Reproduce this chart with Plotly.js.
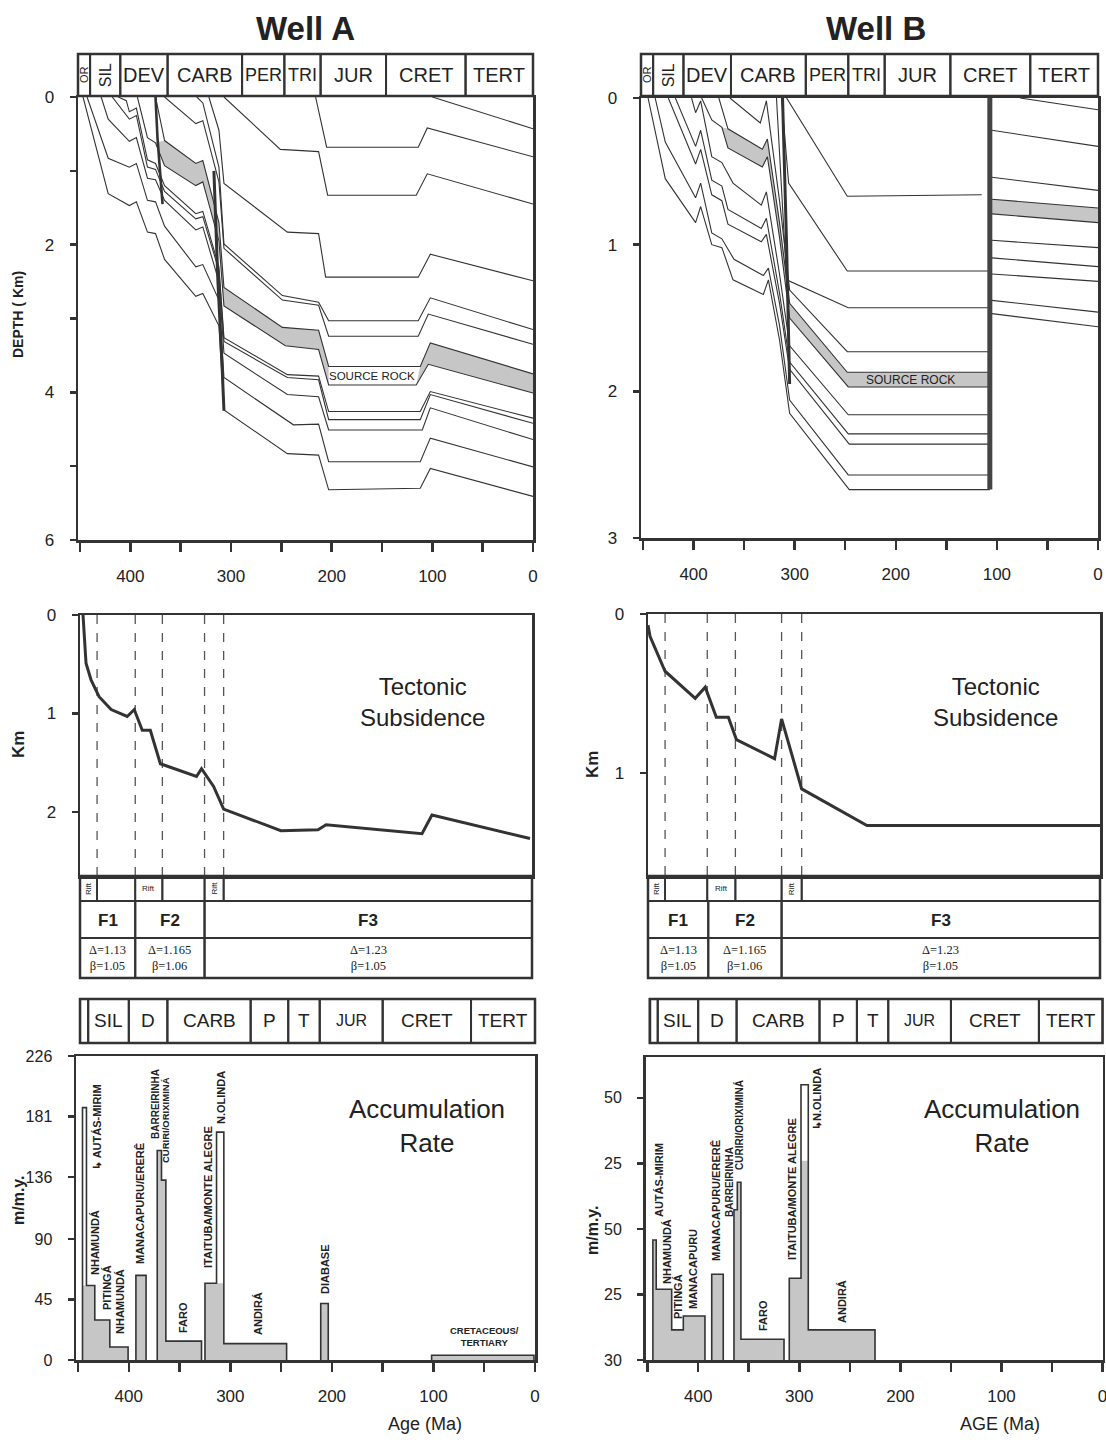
<!DOCTYPE html>
<html><head><meta charset="utf-8">
<script src="https://cdn.plot.ly/plotly-3.0.1.min.js"></script>
<style>html,body{margin:0;padding:0;background:#fff}#chart{width:1106px;height:1445px}</style>
</head><body><div id="chart"></div>
<script>
// ---------------- DATA ----------------
const ageTicks = [450,400,350,300,250,200,150,100,50,0];
const ageTickText = ['','400','','300','','200','','100','','0'];

const periodTopNames = ['OR','SIL','DEV','CARB','PER','TRI','JUR','CRET','TERT'];
const periodTopBounds = [452,440,410,363,289,247,211,146,67,0];
const periodLowNames = ['','SIL','D','CARB','P','T','JUR','CRET','TERT'];
const periodLowBounds = [448,440,400,362,280,243,212,150,63,0];

// Well A burial history: [age Ma, depth km]
const wellA_h01 = [[100,0],[0,0.43]];
const wellA_h02 = [[216,0],[205,0.68],[114,0.68],[105,0.42],[0,0.81]];
const wellA_h03 = [[307,0],[251,0.71],[213,0.74],[204,1.33],[116,1.33],[105,1.04],[0,1.45]];
const wellA_h04 = [[322,0],[312,0.45],[307,1.17],[244,1.83],[213,1.85],[206,2.44],[114,2.44],[102,2.13],[0,2.49]];
const wellA_h05 = [[334,0],[328,0.08],[312,0.95],[307,1.99],[249,2.69],[213,2.78],[203,3.03],[114,3.03],[102,2.72],[0,3.15]];
const wellA_h06 = [[366,0],[335,0.36],[328,0.32],[312,1.15],[307,2.05],[249,2.75],[213,2.82],[203,3.24],[114,3.24],[104,2.94],[0,3.35]];
const wellA_srcTop = [[375,0],[366,0.59],[335,0.9],[328,0.86],[312,1.7],[307,2.58],[249,3.12],[213,3.16],[203,3.65],[112,3.65],[102,3.33],[0,3.75]];
const wellA_srcBase = [[393,0],[383,0.55],[375,0.62],[366,0.93],[335,1.2],[328,1.15],[312,1.95],[307,2.83],[246,3.37],[213,3.42],[203,3.9],[116,3.9],[104,3.62],[0,4.01]];
const wellA_h08 = [[412,0],[404,0.05],[401,0.2],[394,0.15],[383,0.85],[375,0.9],[366,1.2],[335,1.58],[328,1.55],[312,2.3],[307,3.26],[244,3.76],[213,3.78],[203,4.26],[112,4.26],[102,3.99],[0,4.35]];
const wellA_h09 = [[418,0],[401,0.3],[394,0.25],[383,0.95],[375,0.98],[366,1.28],[335,1.65],[328,1.62],[312,2.35],[307,3.31],[244,3.8],[213,3.83],[203,4.37],[112,4.37],[102,4.03],[0,4.42]];
const wellA_h10 = [[429,0],[422,0.3],[401,0.6],[394,0.55],[383,1.1],[375,1.12],[366,1.4],[335,1.8],[328,1.76],[312,2.5],[307,3.47],[244,4.03],[213,4.06],[203,4.51],[110,4.51],[102,4.21],[0,4.64]];
const wellA_h11 = [[443,0],[422,0.83],[401,0.95],[394,0.9],[383,1.4],[375,1.42],[366,1.75],[335,2.3],[328,2.27],[312,2.75],[307,3.8],[238,4.44],[213,4.43],[203,4.94],[112,4.94],[102,4.62],[0,5.01]];
const wellA_h12 = [[447,0],[422,1.31],[401,1.47],[394,1.42],[383,1.83],[375,1.85],[366,2.2],[335,2.7],[328,2.66],[312,3.1],[307,4.24],[244,4.83],[213,4.85],[203,5.32],[112,5.3],[102,5.03],[0,5.41]];
const wellA_bold1 = [[375,0],[373,0.56],[368,1.45]];
const wellA_bold2 = [[317,1.0],[313,2.5],[309,3.6],[307,4.25]];

// Well B burial history
const wellB_h03 = [[308,0],[248,0.67],[115,0.66]];
const wellB_h04 = [[313,0],[306,0.58],[248,1.18],[107,1.18]];
const wellB_h05 = [[318,0],[308,1.24],[247,1.43],[107,1.43]];
const wellB_h06 = [[364,0],[334,0.17],[328,0.02],[315,0.7],[305,1.31],[248,1.73],[107,1.73]];
const wellB_srcTop = [[375,0],[366,0.21],[332,0.35],[327,0.28],[315,0.85],[305,1.4],[248,1.87],[107,1.87]];
const wellB_srcBase = [[392,0],[382,0.15],[372,0.2],[366,0.34],[332,0.47],[327,0.4],[315,0.95],[305,1.5],[247,1.97],[107,1.97]];
const wellB_h08 = [[402,0],[398,0.1],[393,0.02],[382,0.4],[372,0.44],[361,0.58],[333,0.73],[328,0.64],[315,1.2],[305,1.69],[247,2.16],[107,2.16]];
const wellB_h09 = [[418,0],[398,0.33],[393,0.22],[382,0.56],[372,0.6],[366,0.76],[333,0.89],[328,0.82],[315,1.33],[305,1.8],[247,2.29],[107,2.29]];
const wellB_h10 = [[425,0],[398,0.45],[393,0.35],[382,0.66],[372,0.7],[366,0.86],[333,0.98],[328,0.93],[315,1.4],[305,1.85],[246,2.36],[107,2.36]];
const wellB_h11 = [[438,0],[428,0.3],[398,0.68],[393,0.58],[382,0.92],[372,0.96],[360,1.1],[331,1.21],[326,1.16],[315,1.55],[305,2.06],[247,2.57],[107,2.57]];
const wellB_h12 = [[445,0],[428,0.55],[398,0.85],[393,0.74],[382,1.0],[372,1.02],[361,1.24],[331,1.34],[326,1.24],[315,1.65],[305,2.15],[246,2.67],[107,2.67]];
const wellB_r01 = [[77,0],[0,0.08]];
const wellB_r02 = [[105,0.22],[0,0.33]];
const wellB_r03 = [[105,0.54],[0,0.63]];
const wellB_rSrcTop = [[105,0.69],[0,0.75]];
const wellB_rSrcBase = [[105,0.79],[0,0.85]];
const wellB_r05 = [[105,0.97],[0,1.02]];
const wellB_r06 = [[105,1.09],[0,1.15]];
const wellB_r07 = [[105,1.2],[0,1.25]];
const wellB_r08 = [[105,1.38],[0,1.46]];
const wellB_r09 = [[105,1.47],[0,1.56]];
const wellB_bold1 = [[312,0],[308,1.0],[305,1.95]];
const wellB_bold2 = [[107,0],[107,2.67]];

// Tectonic subsidence
const tsA_age = [447,446,444,439,431,419,403,396,388,380,370,334,329,317,307,250,213,205,109.5,99.6,2];
const tsA_km  = [0,0.19,0.49,0.66,0.83,0.96,1.03,0.96,1.17,1.17,1.51,1.64,1.56,1.74,1.97,2.19,2.18,2.13,2.22,2.03,2.27];
const tsB_age = [450,448,433,403,393,382,370,362,324,317,297,232,0];
const tsB_km  = [0.07,0.14,0.36,0.53,0.46,0.65,0.65,0.79,0.91,0.66,1.10,1.33,1.33];

const riftA_bounds = [450,433,395,368,326,307,0];
const riftB_bounds = [450,433,391,363,317,297,0];
const riftLabels = ['Rift','','Rift','','Rift',''];
const riftVertical = [true,false,false,false,true,false];
const phaseA_bounds = [450,395,326,0];
const phaseB_bounds = [450,390,317,0];
const phaseNames = ['F1','F2','F3'];
const phaseDelta = ['Δ=1.13','Δ=1.165','Δ=1.23'];
const phaseBeta = ['β=1.05','β=1.06','β=1.05'];

// Accumulation rate (m/m.y.) step groups: edges (Ma) and rates
const accA_edges1 = [445.6,441.7,433.5,418.7,400.7]; const accA_rate1 = [187.6,55.4,29.7,9.7]; const accA_shade1 = [55.4,55.4,29.7,9.7];
const accA_edges2 = [393,383];                         const accA_rate2 = [62.9];           const accA_shade2 = [62.9];
const accA_edges3 = [372,367.8,363.5,328.4];           const accA_rate3 = [155.7,133.7,14.0]; const accA_shade3 = [155.7,133.7,14.0];
const accA_edges4 = [325,313.6,306.4,244.6];           const accA_rate4 = [57.1,169.4,12.2]; const accA_shade4 = [57.1,57.1,12.2];
const accA_edges5 = [211,203.6];                       const accA_rate5 = [42];             const accA_shade5 = [42];
const accA_edges6 = [101.8,1];                         const accA_rate6 = [3.5];            const accA_shade6 = [3.5];
const accB_edges1 = [444.8,441.5,426.2,414.7,393.3];   const accB_rate1 = [45.8,27.0,11.5,16.8]; const accB_shade1 = [45.8,27.0,11.5,16.8];
const accB_edges2 = [386.6,375.2];                     const accB_rate2 = [32.7];           const accB_shade2 = [32.7];
const accB_edges3 = [364.6,361.3,357.7,315.1];         const accB_rate3 = [57.3,67.8,7.9];  const accB_shade3 = [57.3,67.8,7.9];
const accB_edges4 = [309.9,298.3,291.1,225.1];         const accB_rate4 = [31.2,105,11.5];  const accB_shade4 = [31.2,76,11.5];

const accA_ticks = [0,45,90,136,181,226];
const accB_ticks = [0,25,50,75,100];
const accB_tickText = ['30','25','50','25','50'];

// ---------------- BUILD ----------------
const W = 1106, H = 1445;
const X = v => v / W, Y = v => 1 - v / H;
const FONT = 'Liberation Sans, Arial, Helvetica, sans-serif';
const INK = '#333';
const GRAY = '#c6c6c6';

const traces = [];
function line(pairs, xa, ya, width, color){
  traces.push({type:'scatter', mode:'lines', x:pairs.map(p=>p[0]), y:pairs.map(p=>p[1]),
    xaxis:xa, yaxis:ya, line:{color:color||INK, width:width||1.1}, hoverinfo:'skip', showlegend:false});
}
function band(top, base, xa, ya){
  const xs = top.map(p=>p[0]).concat(base.slice().reverse().map(p=>p[0]));
  const ys = top.map(p=>p[1]).concat(base.slice().reverse().map(p=>p[1]));
  traces.push({type:'scatter', mode:'lines', x:xs, y:ys, fill:'toself', fillcolor:GRAY,
    line:{width:0, color:GRAY}, xaxis:xa, yaxis:ya, hoverinfo:'skip', showlegend:false});
}
function steps(edges, vals, xa, ya, fill){
  const xs=[edges[0]], ys=[0];
  for(let i=0;i<vals.length;i++){ xs.push(edges[i], edges[i+1]); ys.push(vals[i], vals[i]); }
  xs.push(edges[edges.length-1]); ys.push(0);
  if(fill){
    traces.push({type:'scatter', mode:'lines', x:xs, y:ys, fill:'toself', fillcolor:GRAY,
      line:{width:0,color:GRAY}, xaxis:xa, yaxis:ya, hoverinfo:'skip', showlegend:false});
  } else {
    traces.push({type:'scatter', mode:'lines', x:xs, y:ys, line:{width:1.6,color:INK},
      xaxis:xa, yaxis:ya, hoverinfo:'skip', showlegend:false});
  }
}

// Well A burial
band(wellA_srcTop.filter(p=>p[0]<=366 && p[0]>=203), wellA_srcBase.filter(p=>p[0]<=375 && p[0]>=203), 'x','y');
band(wellA_srcTop.filter(p=>p[0]<=112), wellA_srcBase.filter(p=>p[0]<=116), 'x','y');
[wellA_h01,wellA_h02,wellA_h03,wellA_h04,wellA_h05,wellA_h06,wellA_srcTop,wellA_srcBase,
 wellA_h08,wellA_h09,wellA_h10,wellA_h11,wellA_h12].forEach(h=>line(h,'x','y',1.1));
line(wellA_bold1,'x','y',2.6); line(wellA_bold2,'x','y',3);

// Well B burial
band(wellB_srcTop.filter(p=>p[0]<=366), wellB_srcBase.filter(p=>p[0]<=372), 'x2','y2');
band(wellB_rSrcTop, wellB_rSrcBase, 'x2','y2');
[wellB_h03,wellB_h04,wellB_h05,wellB_h06,wellB_srcTop,wellB_srcBase,wellB_h08,wellB_h09,wellB_h10,
 wellB_h11,wellB_h12,wellB_r01,wellB_r02,wellB_r03,wellB_rSrcTop,wellB_rSrcBase,wellB_r05,wellB_r06,
 wellB_r07,wellB_r08,wellB_r09].forEach(h=>line(h,'x2','y2',1.1));
line(wellB_bold1,'x2','y2',3); line(wellB_bold2,'x2','y2',5,'#444');

// Tectonic subsidence
traces.push({type:'scatter',mode:'lines',x:tsA_age,y:tsA_km,xaxis:'x3',yaxis:'y3',line:{color:INK,width:3},hoverinfo:'skip',showlegend:false});
traces.push({type:'scatter',mode:'lines',x:tsB_age,y:tsB_km,xaxis:'x4',yaxis:'y4',line:{color:INK,width:3},hoverinfo:'skip',showlegend:false});

// Accumulation
[[accA_edges1,accA_shade1],[accA_edges2,accA_shade2],[accA_edges3,accA_shade3],[accA_edges4,accA_shade4],[accA_edges5,accA_shade5],[accA_edges6,accA_shade6]]
  .forEach(g=>steps(g[0],g[1],'x5','y5',true));
[[accA_edges1,accA_rate1],[accA_edges2,accA_rate2],[accA_edges3,accA_rate3],[accA_edges4,accA_rate4],[accA_edges5,accA_rate5],[accA_edges6,accA_rate6]]
  .forEach(g=>steps(g[0],g[1],'x5','y5',false));
[[accB_edges1,accB_shade1],[accB_edges2,accB_shade2],[accB_edges3,accB_shade3],[accB_edges4,accB_shade4]]
  .forEach(g=>steps(g[0],g[1],'x6','y6',true));
[[accB_edges1,accB_rate1],[accB_edges2,accB_rate2],[accB_edges3,accB_rate3],[accB_edges4,accB_rate4]]
  .forEach(g=>steps(g[0],g[1],'x6','y6',false));

// ---------------- LAYOUT ----------------
const tickFont = {family:FONT, size:17, color:'#222'};
function xax(d0,d1,range,anchor,labels){
  return {domain:[X(d0),X(d1)], range:range, anchor:anchor, showline:true, mirror:true, linecolor:INK, linewidth:2.5,
    showgrid:false, zeroline:false, fixedrange:true,
    tickmode:'array', tickvals: labels?ageTicks:[], ticktext: labels?ageTickText:[],
    ticks: labels?'outside':'', ticklen:9, tickwidth:2.5, tickcolor:INK, tickfont:tickFont,
    ticklabelstandoff: 10, showticklabels: !!labels, ticklabeloverflow:'allow'};
}
function yax(top,bot,range,anchor,vals,text,size){
  return {domain:[Y(bot),Y(top)], range:range, anchor:anchor, showline:true, mirror:true, linecolor:INK, linewidth:2.5,
    showgrid:false, zeroline:false, fixedrange:true, tickmode:'array', tickvals:vals, ticktext:text,
    ticks:'outside', ticklen:6, tickwidth:2.5, tickcolor:INK, tickfont:{family:FONT,size:size||17,color:'#222'},
    ticklabelstandoff: 12};
}

const layout = {
  width:W, height:H, autosize:false, margin:{l:0,r:0,t:0,b:0},
  paper_bgcolor:'#ffffff', plot_bgcolor:'#ffffff', showlegend:false,
  xaxis:  xax(78,533,[452,0],'y',true),
  yaxis:  yax(97,540,[6,0],'x',[0,1,2,3,4,5,6],['0','','2','','4','','6']),
  xaxis2: xax(641,1098,[452,0],'y2',true),
  yaxis2: yax(98,538,[3,0],'x2',[0,1,2,3],['0','1','2','3']),
  xaxis3: xax(80,532,[450,0],'y3',false),
  yaxis3: yax(615,876,[2.65,0],'x3',[0,1,2],['0','1','2']),
  xaxis4: xax(648,1100,[450,0],'y4',false),
  yaxis4: yax(614,876,[1.648,0],'x4',[0,1],['0','1']),
  xaxis5: xax(76,535,[452,0],'y5',true),
  yaxis5: yax(1056,1360,[0,226],'x5',accA_ticks,accA_ticks.map(String),16),
  xaxis6: xax(645.6,1102.6,[452,0],'y6',true),
  yaxis6: yax(1057,1360,[0,115.6],'x6',accB_ticks,accB_tickText,16),
  shapes:[], annotations:[]
};
const S = layout.shapes, A = layout.annotations;
function txt(text,x,y,size,opt){
  A.push(Object.assign({text:text, x:X(x), y:Y(y), xref:'paper', yref:'paper', showarrow:false,
    font:{family:FONT,size:size,color:'#222'}, xanchor:'center', yanchor:'middle'}, opt||{}));
}
function cellRow(bounds, xref, y0, y1, lw){
  for(let i=0;i<bounds.length-1;i++){
    S.push({type:'rect', xref:xref, yref:'paper', x0:bounds[i], x1:bounds[i+1], y0:Y(y1), y1:Y(y0),
      line:{color:INK,width:lw}, fillcolor:'rgba(0,0,0,0)', layer:'above'});
  }
}
function frame(x0,x1,y0,y1){
  S.push({type:'rect', xref:'paper', yref:'paper', x0:X(x0), x1:X(x1), y0:Y(y1), y1:Y(y0),
    line:{color:INK,width:2.5}, fillcolor:'rgba(0,0,0,0)', layer:'above'});
}

// top period tables
[['x',78,533],['x2',641,1098]].forEach(([xr,l,r])=>{
  cellRow(periodTopBounds, xr, 54, 96, 2);
  frame(l,r,54,96);
  periodTopNames.forEach((n,i)=>{
    const c=(periodTopBounds[i]+periodTopBounds[i+1])/2;
    const rot = (n==='OR'||n==='SIL');
    const size = n==='OR'?11:(n==='SIL'?16:((n==='PER'||n==='TRI')?18:20));
    A.push({text:n, x:c, y:Y(75), xref:xr, yref:'paper', showarrow:false, textangle:rot?-90:0,
      font:{family:FONT,size:size,color:'#222'}, xanchor:'center', yanchor:'middle'});
  });
});
// lower period tables
[['x5',80,535],['x6',650,1102.6]].forEach(([xr,l,r])=>{
  cellRow(periodLowBounds, xr, 999, 1043, 2);
  frame(l,r,999,1043);
  periodLowNames.forEach((n,i)=>{
    if(!n) return;
    const c=(periodLowBounds[i]+periodLowBounds[i+1])/2;
    const size = n==='JUR'?16:19;
    A.push({text:n, x:c, y:Y(1021), xref:xr, yref:'paper', showarrow:false,
      font:{family:FONT,size:size,color:'#222'}, xanchor:'center', yanchor:'middle'});
  });
});

// tectonic tables
[['x3','y3',riftA_bounds,phaseA_bounds,80,532,2.65],['x4','y4',riftB_bounds,phaseB_bounds,648,1100,1.648]].forEach(([xr,yr,rb,pb,l,r,ymax])=>{
  cellRow(rb, xr, 876, 901, 1.8);
  cellRow(pb, xr, 901, 938, 2);
  cellRow(pb, xr, 938, 978, 2);
  frame(l,r,876,978);
  rb.slice(1,-1).forEach(b=>S.push({type:'line', xref:xr, yref:yr, x0:b, x1:b, y0:0, y1:ymax,
    line:{color:'#555',width:1.3,dash:'dash'}, layer:'below'}));
  riftLabels.forEach((t,i)=>{
    if(!t) return;
    const c=(rb[i]+rb[i+1])/2;
    A.push({text:t, x:c, y:Y(888.5), xref:xr, yref:'paper', showarrow:false, textangle:riftVertical[i]?-90:0,
      font:{family:FONT,size:8,color:'#222'}, xanchor:'center', yanchor:'middle'});
  });
  phaseNames.forEach((t,i)=>{
    const c=(pb[i]+pb[i+1])/2;
    A.push({text:'<b>'+t+'</b>', x:c, y:Y(920), xref:xr, yref:'paper', showarrow:false,
      font:{family:FONT,size:17,color:'#222'}, xanchor:'center', yanchor:'middle'});
    A.push({text:phaseDelta[i]+'<br>'+phaseBeta[i], x:c, y:Y(958), xref:xr, yref:'paper', showarrow:false,
      font:{family:'Liberation Serif, Times New Roman, serif',size:12.5,color:'#222'}, xanchor:'center', yanchor:'middle'});
  });
});

// titles and axis titles
txt('<b>Well A</b>',305,29,33);
txt('<b>Well B</b>',876,29,33);
txt('<b>DEPTH ( Km)</b>',18,315,14,{textangle:-90});
txt('<b>Km</b>',18,745,17,{textangle:-90});
txt('<b>Km</b>',592,765,17,{textangle:-90});
txt('<b>m/m.y.</b>',18,1200,16,{textangle:-90});
txt('<b>m/m.y.</b>',592,1230,16,{textangle:-90});
txt('Age (Ma)',425,1424,18);
txt('AGE (Ma)',1000,1424,18);
txt('Tectonic<br>Subsidence',422,702,24);
txt('Tectonic<br>Subsidence',996,702,24);
txt('Accumulation<br>Rate',427,1126,26);
txt('Accumulation<br>Rate',1002,1126,26);

// source rock labels
A.push({text:'SOURCE ROCK', x:160, y:3.78, xref:'x', yref:'y', showarrow:false, font:{family:FONT,size:11.5,color:'#222'}});
A.push({text:'SOURCE ROCK', x:185, y:1.92, xref:'x2', yref:'y2', showarrow:false, font:{family:FONT,size:12,color:'#222'}});

// formation labels (rotated)
const labA = [['↳ AUTÁS-MIRIM',97,1127,11],['NHAMUNDÁ',95,1243,11],['PITINGÁ',107,1288,11],['NHAMUNDÁ',120,1302,11],
  ['MANACAPURU/ERERÊ',140,1204,11],['BARREIRINHA',155,1104,10],['CURIRI/ORIXIMINÁ',165,1120,9.5],['FARO',183,1318,11],
  ['ITAITUBA/MONTE ALEGRE',208,1197,11],['N.OLINDA',221,1098,11],['ANDIRÁ',258,1314,11],['DIABASE',325,1269,11]];
const labB = [['AUTÁS-MIRIM',659,1180,11],['NHAMUNDÁ',667,1252,11],['PITINGÁ',678,1297,11],['MANACAPURU',693,1269,11],
  ['MANACAPURU/ERERÊ',716,1201,11],['BARREIRINHA',729,1182,10],['CURIRI/ORIXIMINÁ',739,1125,10],['FARO',763,1316,11],
  ['ITAITUBA/MONTE ALEGRE',792,1189,11],['↳N.OLINDA',817,1099,11],['ANDIRÁ',842,1302,11]];
labA.concat(labB).forEach(([t,x,y,s])=>txt('<b>'+t+'</b>',x,y,s,{textangle:-90}));
txt('<b>CRETACEOUS/<br>TERTIARY</b>',484,1336,9.5);

Plotly.newPlot('chart', traces, layout, {displayModeBar:false, staticPlot:true});
</script></body></html>
